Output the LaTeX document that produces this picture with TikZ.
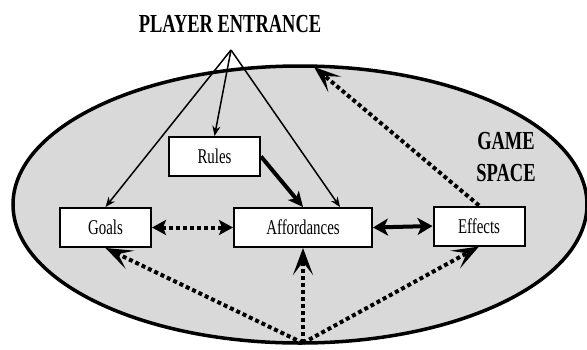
\documentclass[tikz,border=0pt]{standalone}
\usepackage{fontspec}
\setmainfont[FakeStretch=0.71]{Liberation Serif}
\usetikzlibrary{arrows.meta}
\definecolor{spacegray}{gray}{0.85}

\begin{document}
\begin{tikzpicture}[x=1pt,y=-1pt,>={Stealth[length=10pt,width=8pt]},
  box/.style={draw,fill=white,line width=2pt,minimum width=91pt,minimum height=39pt,inner sep=0pt,font=\fontsize{21}{25}\selectfont},
  title/.style={font=\fontsize{26}{32}\selectfont\bfseries,align=center},
  entry/.style={->,line width=1.5pt},
  heavy/.style={line width=4pt},
  dots/.style={line width=4pt,dash pattern=on 4pt off 3pt}]
  \useasboundingbox (0,0) rectangle (587,349);
  \draw[fill=spacegray,line width=3.5pt] (300,204.5) ellipse [x radius=287, y radius=138.5];

  \node[title]         (entrance)    at (230,24)      {PLAYER ENTRANCE};
  \node[title]         (space)       at (506,157)     {GAME\\SPACE};
  \node[box]           (rules)       at (214.5,156.5) {Rules};
  \node[box]           (goals)       at (105.5,227.5) {Goals};
  \node[box,minimum width=138pt] (affordances) at (303,227.5) {Affordances};
  \node[box]           (effects)     at (479,226)     {Effects};
  \coordinate (apex)  at (231,50);
  \coordinate (floor) at (303,343);
  \coordinate (rim)   at (314,67);

  \path[entry] (apex) edge (goals.north)
                      edge (rules.north)
                      edge ([xshift=37pt]affordances.north);
  \draw[heavy,-{Stealth[length=15pt,width=14pt,inset=4pt]}] (rules.east) -- (affordances.north);
  \draw[heavy,{Stealth[length=15pt,width=17pt,inset=4pt]}-{Stealth[length=15pt,width=17pt,inset=4pt]}]
        (affordances.east) -- (effects.west);
  \draw[dots,{Stealth[length=14pt,width=15pt,inset=3pt]}-{Stealth[length=14pt,width=15pt,inset=3pt]}]
        (goals.east) -- (affordances.west);
  \path[dots,-{Stealth[length=27pt,width=20pt,inset=13pt]}]
        (floor)   edge (goals.south)
                  edge (affordances.south)
                  edge (effects.south)
        (effects.north) edge (rim);
\end{tikzpicture}
\end{document}
